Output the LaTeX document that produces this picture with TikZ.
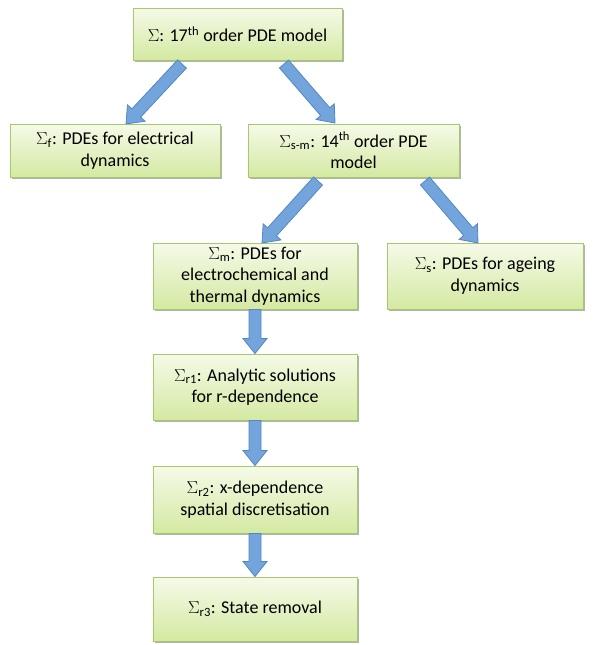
\documentclass[tikz,border=0pt]{standalone}
\usepackage{fontspec}
\setmainfont{Carlito}
\usetikzlibrary{calc,shadows}
\definecolor{boxtop}{HTML}{F5FAE8}
\definecolor{boxbot}{HTML}{D4E9A2}
\definecolor{boxline}{HTML}{A8C96B}
\definecolor{arrfill}{HTML}{74A4DC}
\definecolor{arrline}{HTML}{5286C4}
\tikzset{
  stagebox/.style={draw=boxline, line width=1pt, top color=boxtop, bottom color=boxbot,
    align=center, inner sep=0pt, font=\fontsize{18}{21.5}\selectfont,
    drop shadow={shadow xshift=1.5pt, shadow yshift=-2pt, opacity=0.3, fill=black}},
  barrow/.style={fill=arrfill, draw=arrline, line width=0.8pt, line join=miter}
}
\newcommand\blockarr[2]{%
  \coordinate (hb) at ($(#2)!15pt!(#1)$);
  \filldraw[barrow] ($(#1)!6pt!90:(#2)$) -- ($(hb)!6pt!-90:(#1)$) -- ($(hb)!12pt!-90:(#1)$)
    -- (#2) -- ($(hb)!12pt!90:(#1)$) -- ($(hb)!6pt!90:(#1)$) -- ($(#1)!6pt!-90:(#2)$) -- cycle;}
\begin{document}
\begin{tikzpicture}[x=1pt,y=-1pt]
\useasboundingbox (0,0) rectangle (596,645);
\node[stagebox, minimum width=209pt, minimum height=52pt] (top) at (237.5,34) {$\Sigma$: 17\textsuperscript{th} order PDE model};
\node[stagebox, minimum width=210pt, minimum height=53pt] (f) at (115,150.5) {$\Sigma$\textsubscript{f}: PDEs for electrical\\dynamics};
\node[stagebox, minimum width=211pt, minimum height=53pt] (sm) at (353.5,150.5) {$\Sigma$\textsubscript{s-m}: 14\textsuperscript{th} order PDE\\model};
\node[stagebox, minimum width=204pt, minimum height=66pt] (m) at (255,276) {$\Sigma$\textsubscript{m}: PDEs for\\electrochemical and\\thermal dynamics};
\node[stagebox, minimum width=196pt, minimum height=66pt] (s) at (485,276) {$\Sigma$\textsubscript{s}: PDEs for ageing\\dynamics};
\node[stagebox, minimum width=204pt, minimum height=66pt] (r1) at (255,387) {$\Sigma$\textsubscript{r1}: Analytic solutions\\for r-dependence};
\node[stagebox, minimum width=204pt, minimum height=67pt] (r2) at (255,499.5) {$\Sigma$\textsubscript{r2}: x-dependence\\spatial discretisation};
\node[stagebox, minimum width=204pt, minimum height=64pt] (r3) at (255,609) {$\Sigma$\textsubscript{r3}: State removal};
\coordinate (a1s) at (182,64);
\coordinate (a1e) at (126,124);
\coordinate (a2s) at (284,64);
\coordinate (a2e) at (335,123);
\coordinate (a3s) at (318,181);
\coordinate (a3e) at (262,243);
\coordinate (a4s) at (425,181);
\coordinate (a4e) at (478,243);
\blockarr{a1s}{a1e}
\blockarr{a2s}{a2e}
\blockarr{a3s}{a3e}
\blockarr{a4s}{a4e}
\blockarr{m.south}{r1.north}
\blockarr{r1.south}{r2.north}
\blockarr{r2.south}{r3.north}
\end{tikzpicture}
\end{document}
